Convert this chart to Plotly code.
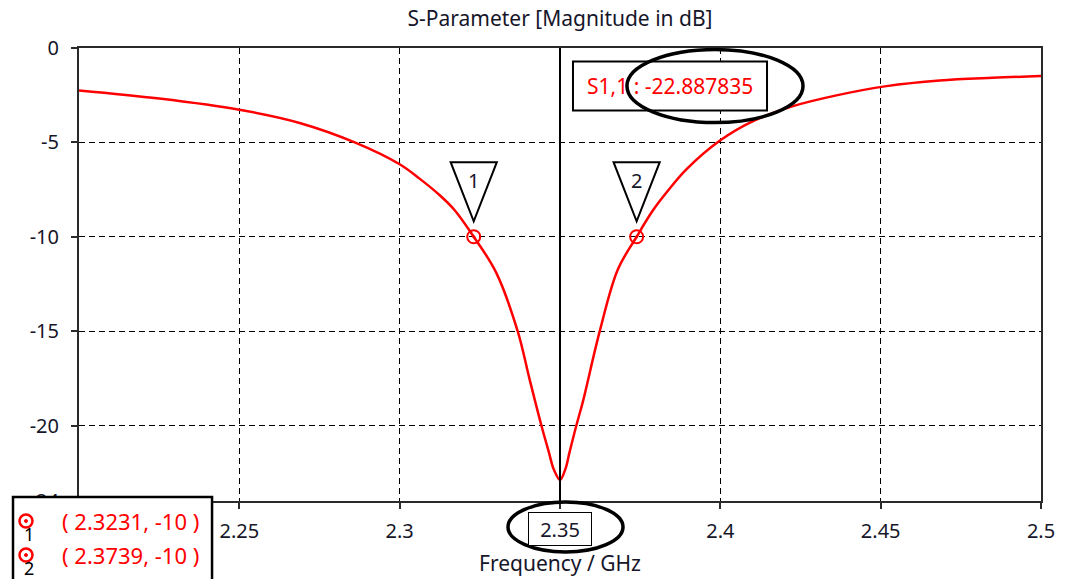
import plotly.graph_objects as go

# S11 magnitude (dB) versus frequency (GHz)
freq_ghz = [2.2000, 2.2250, 2.2500, 2.2688, 2.2860, 2.3000, 2.3062, 2.3125,
            2.3171, 2.3231, 2.3301, 2.3368, 2.3405, 2.3442, 2.3465, 2.3480,
            2.3500, 2.3517, 2.3530, 2.3551, 2.3571, 2.3624, 2.3680, 2.3739,
            2.3790, 2.3832, 2.3894, 2.3999, 2.4102, 2.4227, 2.4362, 2.4518,
            2.4684, 2.4849, 2.5000]
s11_db = [-2.25, -2.68, -3.27, -3.97, -5.00, -6.16, -6.92, -7.80,
          -8.58, -10.00, -11.90, -15.00, -17.54, -20.00, -21.40, -22.30,
          -22.887835, -22.30, -21.40, -20.00, -18.76, -15.00, -11.75, -10.00,
          -8.60, -7.66, -6.43, -4.90, -3.87, -3.08, -2.51, -2.02,
          -1.72, -1.58, -1.49]

# -10 dB markers and the marker line at resonance
marker_ids = ["1", "2"]
marker_freq = [2.3231, 2.3739]
marker_db = [-10, -10]
res_freq = 2.35
res_db = -22.887835

# the 2.2 label sits under the marker readout box, 2.35 gets its own boxed label
x_ticks = [2.2, 2.25, 2.3, 2.35, 2.4, 2.45, 2.5]
x_tick_text = ["", "2.25", "2.3", "", "2.4", "2.45", "2.5"]
y_ticks = [0, -5, -10, -15, -20, -24]
y_tick_text = ["0", "-5", "-10", "-15", "-20", "-24"]

X0, X1 = 2.2, 2.5
Y0, Y1 = -24, 0
FONT = "Noto Sans"
RED = "#ff0000"
INK = "#16162a"


def px(f):
    return (f - X0) / (X1 - X0)


fig = go.Figure()
fig.add_trace(go.Scatter(x=freq_ghz, y=s11_db, mode="lines",
                         line=dict(color=RED, width=2.5, shape="spline", smoothing=1.0),
                         hoverinfo="skip", showlegend=False))
fig.add_trace(go.Scatter(x=marker_freq, y=marker_db, mode="markers",
                         marker=dict(symbol="circle-open-dot", size=13, color=RED,
                                     line=dict(width=2, color=RED)),
                         showlegend=False, cliponaxis=False))

shapes = []
annotations = []

# vertical marker line at the resonance frequency
shapes.append(dict(type="line", xref="x", yref="y", x0=res_freq, x1=res_freq,
                   y0=Y0, y1=Y1, line=dict(color="black", width=2), layer="above"))

# inverted triangle flags above each -10 dB marker
for mid, f, v in zip(marker_ids, marker_freq, marker_db):
    shapes.append(dict(type="path", xref="x", yref="y",
                       path=f"M {f - 0.0072} {v + 3.95} L {f + 0.0072} {v + 3.95} L {f} {v + 0.82} Z",
                       line=dict(color="black", width=2), fillcolor="rgba(0,0,0,0)",
                       layer="above"))
    annotations.append(dict(x=f, y=v + 3.0, xref="x", yref="y", text=mid, showarrow=False,
                            xanchor="center", yanchor="middle",
                            font=dict(family=FONT, size=20, color=INK)))

# value box for S1,1 at resonance, circled
shapes.append(dict(type="rect", xref="paper", yref="paper",
                   x0=0.5135, x1=0.7152, y0=0.8619, y1=0.9702,
                   line=dict(color="black", width=2), fillcolor="white", layer="above"))
annotations.append(dict(x=0.6143, y=0.916, xref="paper", yref="paper",
                        xanchor="center", yanchor="middle",
                        text=f"S1,1 : {res_db:.6f}", showarrow=False,
                        font=dict(family=FONT, size=21, color=RED)))
shapes.append(dict(type="circle", xref="paper", yref="paper",
                   x0=0.5696, x1=0.7526, y0=0.8354, y1=0.9967,
                   line=dict(color="black", width=3.5), layer="above"))

# boxed frequency label under the marker line, circled
annotations.append(dict(x=px(res_freq), y=0, xref="paper", yref="paper", yshift=-28,
                        xanchor="center", yanchor="middle",
                        text=f"{res_freq:.2f}", showarrow=False,
                        bordercolor="black", borderwidth=1, borderpad=4, bgcolor="white",
                        width=54, height=24,
                        font=dict(family=FONT, size=20, color=INK)))
shapes.append(dict(type="circle", xref="paper", yref="paper",
                   xsizemode="pixel", ysizemode="pixel",
                   xanchor=px(res_freq), yanchor=0,
                   x0=-52, x1=63, y0=-51, y1=-1,
                   line=dict(color="black", width=3.5), layer="above"))

# marker readout box at the lower left
shapes.append(dict(type="rect", xref="paper", yref="paper",
                   x0=-0.0686, x1=0.1383, y0=-0.2, y1=0.0088,
                   line=dict(color="black", width=2.5), fillcolor="white", layer="above"))
for i, (mid, f, v) in enumerate(zip(marker_ids, marker_freq, marker_db)):
    yc = -0.0442 - i * 0.0751
    shapes.append(dict(type="circle", xref="paper", yref="paper",
                       xsizemode="pixel", ysizemode="pixel",
                       xanchor=-0.0551, yanchor=yc, x0=-6.5, x1=6.5, y0=-6.5, y1=6.5,
                       line=dict(color=RED, width=2.5), layer="above"))
    shapes.append(dict(type="circle", xref="paper", yref="paper",
                       xsizemode="pixel", ysizemode="pixel",
                       xanchor=-0.0551, yanchor=yc, x0=-1.5, x1=1.5, y0=-1.5, y1=1.5,
                       line=dict(color=RED, width=1), fillcolor=RED, layer="above"))
    annotations.append(dict(x=-0.0520, y=yc, xref="paper", yref="paper", yshift=-13,
                            xanchor="center", yanchor="middle",
                            text=mid, showarrow=False,
                            font=dict(family=FONT, size=18, color="black")))
    annotations.append(dict(x=-0.0198, y=yc, xref="paper", yref="paper",
                            xanchor="left", yanchor="middle",
                            text=f"( {f:.4f}, {v:d} )", showarrow=False,
                            font=dict(family=FONT, size=22, color=RED)))

# axis title
annotations.append(dict(x=px(res_freq), y=0, xref="paper", yref="paper", yshift=-62,
                        xanchor="center", yanchor="middle",
                        text="Frequency / GHz", showarrow=False,
                        font=dict(family=FONT, size=21, color=INK)))

axis_common = dict(showline=True, linecolor="#2a2a2a", linewidth=2, mirror=True,
                   showgrid=True, gridcolor="black", gridwidth=1, griddash="6px,4px",
                   zeroline=False, ticks="outside", ticklen=6, tickwidth=1.5,
                   tickcolor="#2a2a2a", tickfont=dict(family=FONT, size=20, color=INK))

fig.update_layout(
    width=1066, height=579,
    margin=dict(l=79, r=25, t=48, b=78),
    paper_bgcolor="white", plot_bgcolor="white",
    title=dict(text="S-Parameter [Magnitude in dB]", x=0.5, xanchor="center",
               y=1 - 19 / 579, yanchor="middle", xref="paper", yref="container",
               font=dict(family=FONT, size=21, color=INK)),
    xaxis=dict(range=[X0, X1], tickvals=x_ticks, ticktext=x_tick_text,
               ticklabelstandoff=5, **axis_common),
    yaxis=dict(range=[Y0, Y1], tickvals=y_ticks, ticktext=y_tick_text,
               ticklabelstandoff=8, **axis_common),
    shapes=shapes, annotations=annotations, showlegend=False,
)

fig.write_html("out.html")
